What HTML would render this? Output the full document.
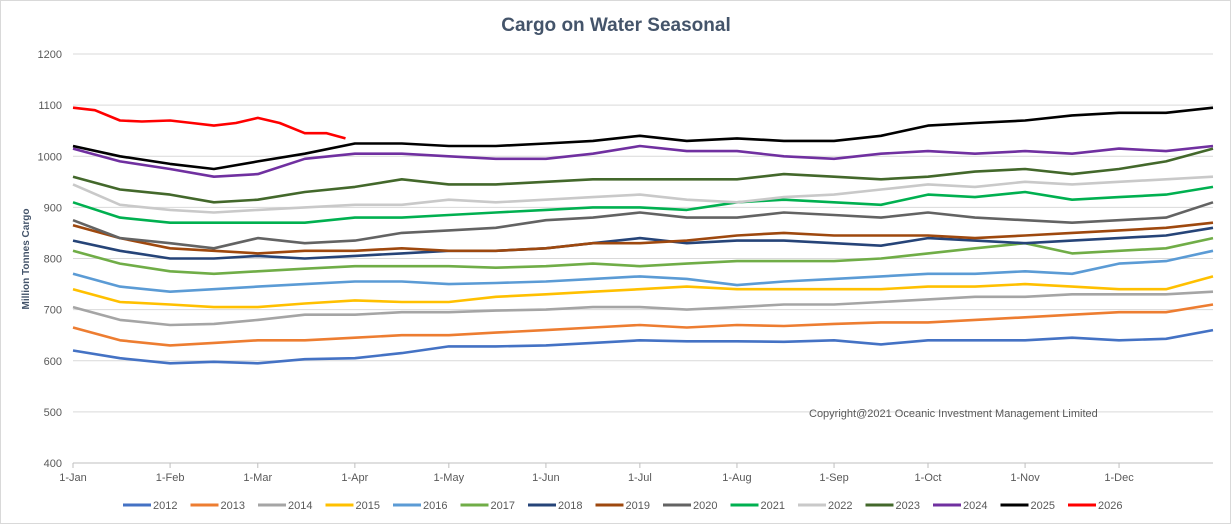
<!DOCTYPE html>
<html><head><meta charset="utf-8"><style>
body{margin:0;background:#fff;font-family:"Liberation Sans",sans-serif}
#wrap{position:relative;width:1231px;height:524px;overflow:hidden;border:1px solid #d9d9d9;box-sizing:border-box}
svg text{font-family:"Liberation Sans",sans-serif}
</style></head><body>
<div id="wrap">
<svg id="chart" width="1231" height="524"></svg>
</div>
<script>
const days=[0,15,31,45,59,74,90,105,120,135,151,166,181,196,212,227,243,258,273,288,304,319,334,349,364];
const seriesNames=["2012","2013","2014","2015","2016","2017","2018","2019","2020","2021","2022","2023","2024","2025","2026"];
const colors=["#4472C4","#ED7D31","#A5A5A5","#FFC000","#5B9BD5","#70AD47","#264478","#9E480E","#636363","#00B050","#C9C9C9","#43682B","#7030A0","#000000","#FF0000"];
const v2012=[620,605,595,598,595,603,605,615,628,628,630,635,640,638,638,637,640,632,640,640,640,645,640,643,660];
const v2013=[665,640,630,635,640,640,645,650,650,655,660,665,670,665,670,668,672,675,675,680,685,690,695,695,710];
const v2014=[705,680,670,672,680,690,690,695,695,698,700,705,705,700,705,710,710,715,720,725,725,730,730,730,735];
const v2015=[740,715,710,705,705,712,718,715,715,725,730,735,740,745,740,740,740,740,745,745,750,745,740,740,765];
const v2016=[770,745,735,740,745,750,755,755,750,752,755,760,765,760,748,755,760,765,770,770,775,770,790,795,815];
const v2017=[815,790,775,770,775,780,785,785,785,782,785,790,785,790,795,795,795,800,810,820,830,810,815,820,840];
const v2018=[835,815,800,800,805,800,805,810,815,815,820,830,840,830,835,835,830,825,840,835,830,835,840,845,860];
const v2019=[865,840,820,815,810,815,815,820,815,815,820,830,830,835,845,850,845,845,845,840,845,850,855,860,870];
const v2020=[875,840,830,820,840,830,835,850,855,860,875,880,890,880,880,890,885,880,890,880,875,870,875,880,910];
const v2021=[910,880,870,870,870,870,880,880,885,890,895,900,900,895,910,915,910,905,925,920,930,915,920,925,940];
const v2022=[945,905,895,890,895,900,905,905,915,910,915,920,925,915,910,920,925,935,945,940,950,945,950,955,960];
const v2023=[960,935,925,910,915,930,940,955,945,945,950,955,955,955,955,965,960,955,960,970,975,965,975,990,1015];
const v2024=[1015,990,975,960,965,995,1005,1005,1000,995,995,1005,1020,1010,1010,1000,995,1005,1010,1005,1010,1005,1015,1010,1020];
const v2025=[1020,1000,985,975,990,1005,1025,1025,1020,1020,1025,1030,1040,1030,1035,1030,1030,1040,1060,1065,1070,1080,1085,1085,1095];
const days2026=[0,7,15,22,31,38,45,52,59,66,74,81,87];
const v2026=[1095,1090,1070,1068,1070,1065,1060,1065,1075,1065,1045,1045,1035];
const yTicks=[400,500,600,700,800,900,1000,1100,1200];
const monthLabels=["1-Jan","1-Feb","1-Mar","1-Apr","1-May","1-Jun","1-Jul","1-Aug","1-Sep","1-Oct","1-Nov","1-Dec"];
const monthDays=[0,31,59,90,120,151,181,212,243,273,304,334];

const NS="http://www.w3.org/2000/svg";
const svg=document.getElementById('chart');
const X0=72,X1=1212,Y0=462,Y1=53;
const xs=d=>X0+d*(X1-X0)/364;
const ys=v=>Y0-(v-400)*(Y0-Y1)/800;
function mk(tag,attrs,parent){const e=document.createElementNS(NS,tag);for(const k in attrs)e.setAttribute(k,attrs[k]);(parent||svg).appendChild(e);return e;}

const t=mk('text',{x:615,y:30,'text-anchor':'middle','font-size':19,'font-weight':'bold',fill:'#44546A'});
t.textContent='Cargo on Water Seasonal';



yTicks.forEach(v=>{
  const g=mk('line',{x1:X0,x2:X1,y1:ys(v),y2:ys(v),stroke:'#d9d9d9','stroke-width':1});
  
  
  const l=mk('text',{x:61,y:ys(v)+4,'text-anchor':'end','font-size':11,fill:'#595959'});
  l.textContent=v;
  
  
});
const ax=mk('line',{x1:X0,x2:X1,y1:Y0,y2:Y0,stroke:'#bfbfbf'});


monthLabels.forEach((m,i)=>{
  const tk=mk('line',{x1:xs(monthDays[i]),x2:xs(monthDays[i]),y1:Y0,y2:Y0+5,stroke:'#bfbfbf'});
  
  
  const l=mk('text',{x:xs(monthDays[i]),y:Y0+18,'text-anchor':'middle','font-size':11,fill:'#595959'});
  l.textContent=m;
  
  
});
const yt=mk('text',{x:28,y:258,'text-anchor':'middle','font-size':10,'font-weight':'bold',fill:'#44546A',transform:'rotate(-90 28 258)'});
yt.textContent='Million Tonnes Cargo';


const cp=mk('text',{x:808,y:416,'font-size':11,fill:'#595959'});
cp.textContent='Copyright@2021 Oceanic Investment Management Limited';



const allVals=[v2012,v2013,v2014,v2015,v2016,v2017,v2018,v2019,v2020,v2021,v2022,v2023,v2024,v2025,v2026];
allVals.forEach((vals,i)=>{
  const dd=i===14?days2026:days;
  const pts=vals.map((v,j)=>xs(dd[j]).toFixed(1)+','+ys(v).toFixed(1)).join(' ');
  const p=mk('polyline',{points:pts,fill:'none',stroke:colors[i],'stroke-width':2.6,'stroke-linejoin':'round'});
  
  
});

let lx=122;
seriesNames.forEach((n,i)=>{
  const g=mk('g',{});
  
  
  mk('line',{x1:lx,x2:lx+28,y1:504,y2:504,stroke:colors[i],'stroke-width':3},g);
  const tx=mk('text',{x:lx+30,y:508,'font-size':11,fill:'#595959'},g);
  tx.textContent=n;
  lx+=67.5;
});
</script>
</body></html>
